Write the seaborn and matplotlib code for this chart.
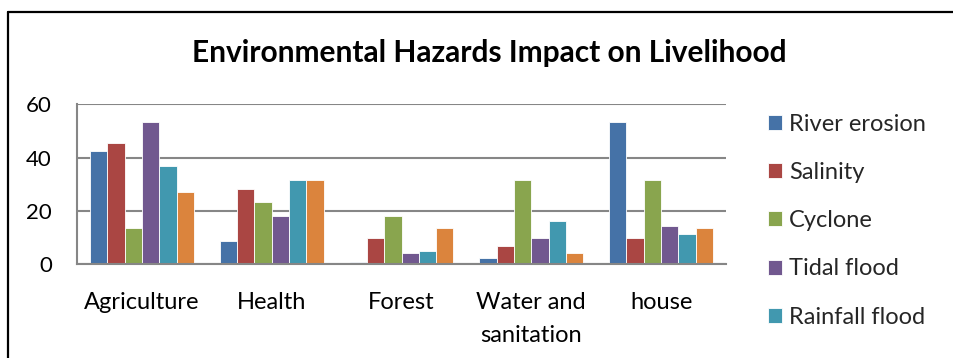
import matplotlib
matplotlib.use("Agg")
import matplotlib.pyplot as plt
from matplotlib.lines import Line2D
import pandas as pd
import seaborn as sns

# Data
categories = ["Agriculture", "Health", "Forest", "Water and\nsanitation", "house"]
hazards = ["River erosion", "Salinity", "Cyclone", "Tidal flood", "Rainfall flood", "Water logging"]
river_erosion = [42.6, 8.7, 0.8, 2.4, 53.5]
salinity = [45.4, 28.1, 9.8, 7.0, 9.8]
cyclone = [13.5, 23.4, 18.0, 31.6, 31.6]
tidal_flood = [53.5, 18.0, 4.1, 9.8, 14.3]
rainfall_flood = [37.0, 31.6, 5.1, 16.1, 11.5]
water_logging = [27.1, 31.6, 13.5, 4.1, 13.5]
y_ticks = [0, 20, 40, 60]

colors = ["#4572A7", "#AA4643", "#89A54E", "#71588F", "#4198AF", "#DB843D"]

series = [river_erosion, salinity, cyclone, tidal_flood, rainfall_flood, water_logging]
rows = []
for name, vals in zip(hazards, series):
    for cat, v in zip(categories, vals):
        rows.append({"category": cat, "hazard": name, "value": v})
df = pd.DataFrame(rows)

sns.set_theme(style="white")
plt.rcParams["font.family"] = ["Lato", "DejaVu Sans"]

W, H = 954, 358
fig = plt.figure(figsize=(W / 100, H / 100), dpi=100)
ax = fig.add_axes([77 / W, (H - 264.3) / H, (726 - 77) / W, (264.3 - 104.3) / H])

sns.barplot(data=df, x="category", y="value", hue="hazard", order=categories,
            hue_order=hazards, palette=colors, saturation=1, width=0.8,
            edgecolor="white", linewidth=0.6, ax=ax)

ax.set_ylim(0, 60)
ax.set_yticks(y_ticks)
ax.set_xlim(-0.5, len(categories) - 0.5)
ax.set_xlabel("")
ax.set_ylabel("")
ax.yaxis.grid(True, color="#868686", linewidth=1.5)
ax.set_axisbelow(True)
for side in ["top", "right"]:
    ax.spines[side].set_visible(False)
for side in ["left", "bottom"]:
    ax.spines[side].set_color("#868686")
    ax.spines[side].set_linewidth(1.5)
ax.tick_params(axis="y", length=0, pad=18, labelsize=16, labelcolor="black")
ax.tick_params(axis="x", length=0, pad=20, labelsize=17, labelcolor="black")
for lbl in ax.get_xticklabels():
    lbl.set_linespacing(1.7)

# Legend: the list runs past the lower edge of the frame, so only the
# first five entries fit in view
old = ax.get_legend()
handles = list(old.legend_handles)
labels = [t.get_text() for t in old.get_texts()]
old.remove()
fig.legend(handles[:5], labels[:5], loc="upper left",
           bbox_to_anchor=(768 / W, (H - 114) / H), frameon=False,
           fontsize=17, handlelength=0.6, handleheight=0.6,
           handletextpad=0.3, labelspacing=1.15, borderpad=0,
           borderaxespad=0)

fig.text(489 / W, (H - 53) / H, "Environmental Hazards Impact on Livelihood",
         ha="center", va="center", fontsize=21.5, fontweight="bold", color="black")

# Chart frame
fig.add_artist(Line2D([8.5 / W, 8.5 / W], [0, (H - 12) / H], transform=fig.transFigure,
                      color="black", linewidth=1.6))
fig.add_artist(Line2D([8 / W, 1], [(H - 12) / H, (H - 12) / H], transform=fig.transFigure,
                      color="black", linewidth=1.6))

fig.savefig("out.png", dpi=100, facecolor="white")
